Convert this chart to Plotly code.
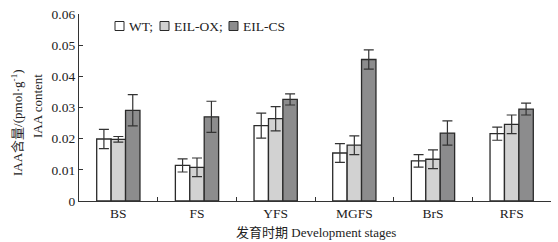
import plotly.graph_objects as go

categories = ["BS", "FS", "YFS", "MGFS", "BrS", "RFS"]
series_names = ["WT", "EIL-OX", "EIL-CS"]
wt = [0.0199, 0.0114, 0.0242, 0.0154, 0.0129, 0.0216]
wt_err = [0.0031, 0.0021, 0.0040, 0.0030, 0.0020, 0.0021]
ox = [0.0198, 0.0108, 0.0264, 0.0179, 0.0134, 0.0246]
ox_err = [0.0009, 0.0030, 0.0039, 0.0030, 0.0030, 0.0030]
cs = [0.0291, 0.0270, 0.0326, 0.0454, 0.0218, 0.0295]
cs_err = [0.0050, 0.0050, 0.0018, 0.0031, 0.0039, 0.0019]
y_tickvals = [0, 0.01, 0.02, 0.03, 0.04, 0.05, 0.06]
y_ticktext = ["0", "0.01", "0.02", "0.03", "0.04", "0.05", "0.06"]

colors = ["#ffffff", "#d2d2d2", "#8c8c8d"]
edge = "#2a2a2a"
FONT = "Liberation Serif, Noto Sans CJK SC, serif"
W, H = 558, 242
ML, MR, MT, MB = 79, 7, 14, 41
PW = W - ML - MR
PH = H - MT - MB

fig = go.Figure()
for name, vals, errs, col in zip(series_names, [wt, ox, cs], [wt_err, ox_err, cs_err], colors):
    fig.add_trace(go.Bar(
        x=categories, y=vals, name=name,
        marker=dict(color=col, line=dict(color=edge, width=1.3)),
        error_y=dict(type="data", array=errs, visible=True, color="#333333",
                     thickness=1.2, width=5),
        showlegend=False,
    ))

def px_x(p):
    return (p - ML) / PW

def px_y(p):
    return 1 - (p - MT) / PH

# legend drawn as keys + text
legend_items = [("WT;", colors[0], 115), ("EIL-OX;", colors[1], 160), ("EIL-CS", colors[2], 229)]
shapes = []
annotations = []
for label, col, x0 in legend_items:
    shapes.append(dict(type="rect", xref="paper", yref="paper",
                       x0=px_x(x0), x1=px_x(x0 + 9), y0=px_y(30.5), y1=px_y(21.5),
                       fillcolor=col, line=dict(color=edge, width=1)))
    annotations.append(dict(text=label, xref="paper", yref="paper",
                            x=px_x(x0 + 12), y=px_y(26), xanchor="left", yanchor="middle",
                            showarrow=False, font=dict(family=FONT, size=13.5, color="#222222")))

annotations.append(dict(text="IAA含量/(pmol·g<sup>-1</sup>)", xref="paper", yref="paper",
                        x=px_x(17), y=px_y(122), textangle=-90, showarrow=False,
                        xanchor="center", yanchor="middle",
                        font=dict(family=FONT, size=13, color="#222222")))
annotations.append(dict(text="IAA content", xref="paper", yref="paper",
                        x=px_x(37), y=px_y(106), textangle=-90, showarrow=False,
                        xanchor="center", yanchor="middle",
                        font=dict(family=FONT, size=13, color="#222222")))
annotations.append(dict(text="发育时期 Development stages", xref="paper", yref="paper",
                        x=px_x(316), y=px_y(232), showarrow=False,
                        xanchor="center", yanchor="middle",
                        font=dict(family=FONT, size=13, color="#222222")))

fig.update_layout(
    template="none",
    width=W, height=H,
    margin=dict(l=ML, r=MR, t=MT, b=MB, autoexpand=False),
    paper_bgcolor="white", plot_bgcolor="white",
    barmode="group", bargap=0.45, bargroupgap=0,
    font=dict(family=FONT, size=13, color="#222222"),
    shapes=shapes, annotations=annotations,
    xaxis=dict(showline=True, linecolor="#333333", linewidth=1.2,
               ticks="inside", ticklen=4, tickcolor="#333333", tickson="boundaries",
               showgrid=False, automargin=False, tickfont=dict(family=FONT, size=13.5)),
    yaxis=dict(range=[0, 0.06], tickvals=y_tickvals, ticktext=y_ticktext,
               showline=True, linecolor="#333333", linewidth=1.2,
               ticks="inside", ticklen=4, tickcolor="#333333", automargin=False,
               showgrid=False, zeroline=False, tickfont=dict(family=FONT, size=13.5)),
)

fig.write_html("out.html", config={"displayModeBar": False},
               post_script="document.body.style.margin='0';document.body.style.overflow='hidden';")
